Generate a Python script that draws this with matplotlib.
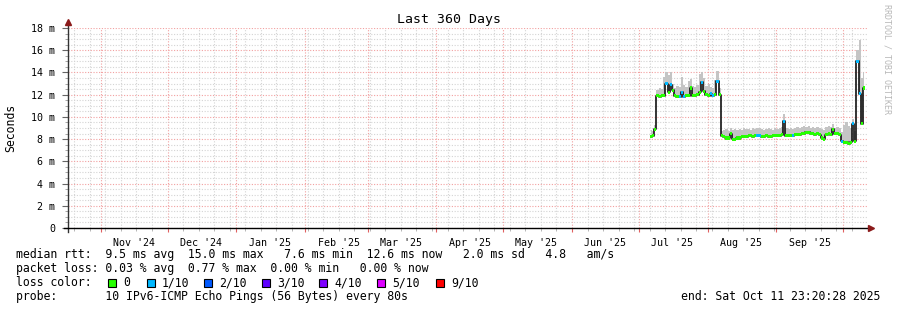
import numpy as np
import pandas as pd
import matplotlib
matplotlib.use("Agg")
import matplotlib.pyplot as plt
import matplotlib.dates as mdates
from matplotlib.patches import Rectangle
from matplotlib.ticker import MultipleLocator, FuncFormatter, NullFormatter
from datetime import datetime, timedelta

plt.rcParams['font.family'] = 'DejaVu Sans Mono'

end = datetime(2025, 10, 11, 23, 20, 28)
start = end - timedelta(days=360)

# one value per day, starting 2025-07-06 (ms)
first_day = '2025-07-06 12:00'
median = [8.2, 8.3, 8.9,
          11.9, 11.8, 11.9, 11.9, 13.0, 12.2, 12.9, 12.4, 11.9, 11.8,
          11.8, 12.2, 11.8, 11.9, 11.9, 12.6, 11.9, 11.9, 12.0, 12.2,
          13.1, 12.3, 12.0, 11.9, 12.1, 11.9, 12.0, 13.2, 12.0,
          8.3, 8.2, 8.1, 8.1, 8.5, 8.0, 8.0, 8.1, 8.1, 8.2, 8.2, 8.2,
          8.3, 8.3, 8.2, 8.3, 8.3, 8.3, 8.2, 8.2, 8.3, 8.2, 8.2, 8.3,
          8.3, 8.3, 8.3, 8.4,
          9.6,
          8.3, 8.3, 8.3, 8.3, 8.4, 8.4, 8.4, 8.5, 8.5, 8.6, 8.6, 8.5,
          8.5, 8.4, 8.5, 8.4, 8.1, 8.0, 8.4, 8.5, 8.4, 8.9, 8.5, 8.5, 8.4,
          7.8, 7.7, 7.7, 7.6, 7.7, 9.4, 7.8, 15.0, 12.1, 9.4, 12.6]
smoke_hi = [8.8, 8.7, 9.3,
            12.4, 12.6, 12.5, 13.6, 14.0, 13.8, 14.0, 13.0, 12.6, 12.8,
            12.7, 13.6, 12.9, 12.7, 13.2, 13.4, 12.8, 12.7, 12.9, 13.9,
            14.0, 13.5, 12.8, 13.0, 12.7, 12.6, 13.3, 14.1, 12.6,
            8.7, 8.8, 8.9, 8.7, 9.0, 8.8, 8.9, 8.8, 8.9, 8.8, 9.0, 8.9,
            8.9, 8.8, 9.0, 8.9, 9.0, 9.0, 8.9, 8.8, 8.9, 9.0, 8.9, 8.8,
            9.0, 8.9, 9.0, 9.1,
            10.3,
            9.0, 8.9, 9.0, 8.9, 9.0, 9.1, 9.0, 9.1, 9.2, 9.1, 9.2, 9.0,
            9.1, 9.0, 9.1, 9.0, 8.9, 8.8, 9.1, 9.2, 9.1, 9.4, 9.0, 9.1, 9.0,
            8.6, 9.3, 9.5, 9.2, 9.0, 9.8, 8.7, 16.0, 16.9, 13.5, 14.0]
# lost pings out of 10
loss = [0, 0, 0, 0, 0, 0, 0, 1, 0, 1,
        0, 0, 0, 1, 1, 1, 0, 0, 0, 0,
        0, 0, 0, 1, 0, 0, 0, 1, 1, 0,
        1, 0, 0, 0, 0, 0, 0, 0, 0, 0,
        0, 0, 0, 0, 0, 0, 0, 0, 1, 1,
        0, 0, 0, 0, 0, 0, 0, 0, 0, 0,
        1, 0, 0, 0, 1, 0, 0, 0, 0, 0,
        0, 0, 0, 0, 0, 0, 0, 0, 0, 0,
        0, 0, 0, 0, 0, 0, 1, 0, 0, 0,
        0, 1, 0, 1, 1, 0, 0]

loss_labels = ['0', '1/10', '2/10', '3/10', '4/10', '5/10', '9/10']
loss_levels = [0, 1, 2, 3, 4, 5, 9]
loss_colors = ['#26ff00', '#00b8ff', '#0059ff', '#5e00ff', '#7e00ff', '#dd00ff', '#ff0000']

months = ['2024-11', '2024-12', '2025-01', '2025-02', '2025-03', '2025-04',
          '2025-05', '2025-06', '2025-07', '2025-08', '2025-09']

stats_text = [
    "median rtt:  9.5 ms avg  15.0 ms max   7.6 ms min  12.6 ms now   2.0 ms sd   4.8   am/s",
    "packet loss: 0.03 % avg  0.77 % max  0.00 % min   0.00 % now",
]
probe_text = "probe:       10 IPv6-ICMP Echo Pings (56 Bytes) every 80s"
end_text = "end: Sat Oct 11 23:20:28 2025"

W, H = 897, 310
fig = plt.figure(figsize=(W / 100, H / 100), dpi=100)
ax = fig.add_axes([67.5 / W, 82 / H, 800 / W, 200 / H])

days = mdates.date2num(pd.date_range(first_day, periods=len(median), freq='D'))
med = np.array(median)

# smoke, median line, loss coloured stripes
ax.fill_between(days, med, smoke_hi, step='mid', color='#c4c4c4', lw=0, zorder=2)
ax.step(days, med, where='mid', color='#111111', lw=1.2, zorder=3)
cmap = dict(zip(loss_levels, loss_colors))
ax.bar(days, 0.28, bottom=med - 0.14, width=1.0, color=[cmap[l] for l in loss],
       lw=0, zorder=4)

ax.set_xlim(start, end)
ax.set_ylim(0, 18)

ax.xaxis.set_major_locator(mdates.MonthLocator())
ax.xaxis.set_minor_locator(mdates.WeekdayLocator(byweekday=mdates.SU))
ax.xaxis.set_major_formatter(NullFormatter())
ax.yaxis.set_major_locator(MultipleLocator(2))
ax.yaxis.set_minor_locator(MultipleLocator(0.5))
ax.yaxis.set_major_formatter(FuncFormatter(lambda v, p: '0' if v == 0 else '%d m' % v))

ax.set_axisbelow(True)
ax.grid(which='major', color='#f2a0a0', linestyle=(0, (1, 1.5)), lw=0.8)
ax.grid(which='minor', color='#d4d4d4', linestyle=(0, (1, 1.5)), lw=0.8)
ax.tick_params(which='major', axis='y', direction='out', length=4, color='#666666',
               labelsize=7.2, pad=5)
ax.tick_params(which='minor', axis='y', direction='out', length=2, color='#999999')
ax.tick_params(which='major', axis='x', direction='out', length=3, color='#e06060')
ax.tick_params(which='minor', axis='x', direction='out', length=2, color='#aaaaaa')
for s in ax.spines.values():
    s.set_visible(False)

# axis lines with arrow heads
ax.plot([0, 0], [-0.02, 1.025], transform=ax.transAxes, color='#333333', lw=1,
        clip_on=False, zorder=5)
ax.plot([-0.005, 1.003], [0, 0], transform=ax.transAxes, color='black', lw=1,
        clip_on=False, zorder=5)
ax.plot([0], [1.03], marker='^', ms=5, color='#8b1a1a', transform=ax.transAxes,
        clip_on=False, zorder=6)
ax.plot([1.004], [0], marker='>', ms=5, color='#8b1a1a', transform=ax.transAxes,
        clip_on=False, zorder=6)

# month labels centred in the month
for m in months:
    d = pd.Timestamp(m + '-01') + pd.Timedelta(days=15)
    ax.text(mdates.date2num(d), -0.05, d.strftime("%b '%y"), transform=ax.get_xaxis_transform(),
            ha='center', va='top', fontsize=7.2)

fig.text(0.5, 1 - 19 / H, 'Last 360 Days', ha='center', va='center', fontsize=9.5)
fig.text(11 / W, 1 - 128 / H, 'Seconds', rotation=90, ha='center', va='center', fontsize=8.3)
fig.text(887 / W, 1 - 4 / H, 'RRDTOOL / TOBI OETIKER', rotation=270, ha='center', va='top',
         fontsize=6, color='#b8b8b8')

fs = 8.3
fig.text(16 / W, 1 - 258 / H, stats_text[0], fontsize=fs, va='baseline')
fig.text(16 / W, 1 - 272 / H, stats_text[1], fontsize=fs, va='baseline')
fig.text(16 / W, 1 - 286 / H, 'loss color:', fontsize=fs, va='baseline')
box_x = [108, 147, 204, 262, 319, 377, 436]
for bx, lab, col in zip(box_x, loss_labels, loss_colors):
    fig.patches.append(Rectangle((bx / W, 1 - 287 / H), 8 / W, 8 / H, transform=fig.transFigure,
                                 facecolor=col, edgecolor='black', lw=0.8))
    fig.text((bx + 15) / W, 1 - 286 / H, lab, fontsize=fs, va='baseline')
fig.text(16 / W, 1 - 300 / H, probe_text, fontsize=fs, va='baseline')
fig.text(880 / W, 1 - 300 / H, end_text, fontsize=fs, va='baseline', ha='right')

fig.savefig('out.png', dpi=100, facecolor='white')
